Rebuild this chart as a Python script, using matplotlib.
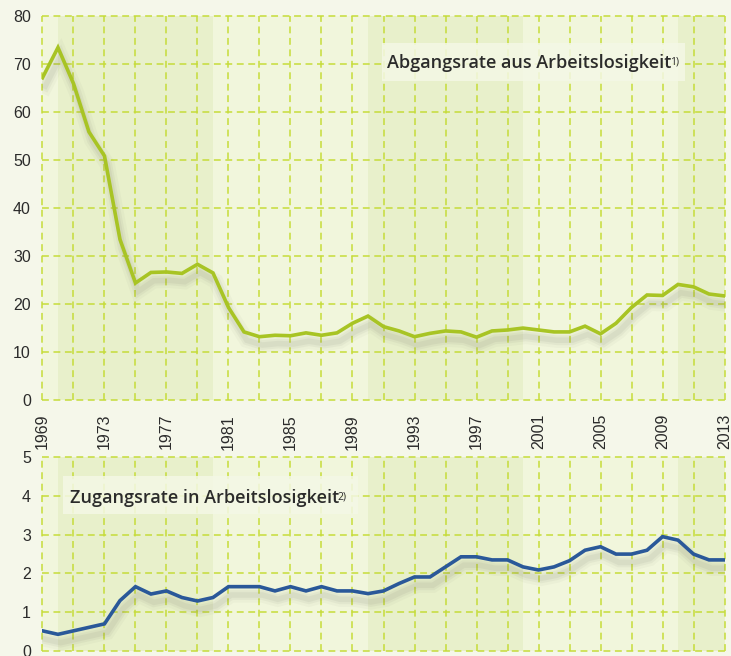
import matplotlib
matplotlib.use('Agg')
import matplotlib.pyplot as plt
import matplotlib.patheffects as pe
from matplotlib.patches import Rectangle

years = list(range(1969, 2014))

# Abgangsrate aus Arbeitslosigkeit (top panel)
abgang = [
	67.2, 73.5, 66.0, 55.9, 50.9, 33.5, 24.4, 26.6, 26.7, 26.4,
	28.3, 26.5, 19.3, 14.2, 13.2, 13.5, 13.4, 14.0, 13.5, 14.0,
	16.0, 17.5, 15.3, 14.4, 13.2, 13.9, 14.4, 14.2, 13.1, 14.4,
	14.6, 15.0, 14.6, 14.2, 14.2, 15.4, 13.8, 16.0, 19.3, 21.9,
	21.8, 24.1, 23.6, 22.1, 21.7,
]

# Zugangsrate in Arbeitslosigkeit (bottom panel)
zugang = [
	0.52, 0.43, 0.52, 0.61, 0.70, 1.30, 1.66, 1.47, 1.55, 1.38,
	1.29, 1.38, 1.66, 1.66, 1.66, 1.55, 1.66, 1.55, 1.66, 1.55,
	1.55, 1.48, 1.55, 1.74, 1.91, 1.91, 2.17, 2.43, 2.43, 2.35,
	2.35, 2.17, 2.09, 2.17, 2.33, 2.60, 2.69, 2.50, 2.50, 2.60,
	2.95, 2.86, 2.50, 2.35, 2.35,
]

# shaded decades
bands = [(1970, 1980), (1990, 2000), (2010, 2013)]

x_ticks = list(range(1969, 2014, 4))
x_grid = list(range(1969, 2014, 2))

fig_bg = '#f5f7ea'
ax_bg = '#f1f6dc'
band_bg = '#e8f0cb'
grid_col = '#c6dc3a'
text_col = '#2b2b2b'

plt.rcParams['font.family'] = ['Liberation Sans', 'DejaVu Sans']

fig = plt.figure(figsize=(7.31, 6.56), dpi=100, facecolor=fig_bg)
ax1 = fig.add_axes([42 / 731, 1 - 400 / 656, 683 / 731, 384 / 656])
ax2 = fig.add_axes([42 / 731, 1 - 651 / 656, 683 / 731, 194 / 656])


def shadow():
	return [
		pe.SimpleLineShadow(offset=(2, -6), shadow_color='#606050', alpha=0.04, linewidth=11),
		pe.SimpleLineShadow(offset=(2, -6), shadow_color='#606050', alpha=0.06, linewidth=7),
		pe.SimpleLineShadow(offset=(2, -6), shadow_color='#606050', alpha=0.07, linewidth=4),
		pe.Normal(),
	]


def style_axes(ax, ymax, ystep, show_x):
	ax.set_facecolor(ax_bg)
	for a, b in bands:
		ax.axvspan(a, b, color=band_bg, lw=0, zorder=0)
	ax.set_xlim(1968.97, 2013.03)
	ax.set_ylim(0, ymax * 1.001)
	ax.set_xticks(x_grid, minor=True)
	ax.set_xticks(x_ticks)
	if show_x:
		ax.set_xticklabels([str(y) for y in x_ticks], rotation=90)
	else:
		# labels of the lower panel fall below the picture's edge
		ax.set_xticklabels([])
	ax.set_yticks(range(0, ymax + 1, ystep))
	for sp in ax.spines.values():
		sp.set_visible(False)
	ax.tick_params(which='both', length=0, labelsize=11.5, colors=text_col)
	ax.tick_params(axis='y', pad=8)
	ax.tick_params(axis='x', pad=10)
	ax.grid(which='both', color=grid_col, linestyle=(0, (4.5, 3)), linewidth=1.1)
	ax.set_axisbelow(True)
	for gl in ax.get_xgridlines() + ax.get_ygridlines() + ax.xaxis.get_minorticklines():
		gl.set_clip_on(False)


style_axes(ax1, 80, 10, True)
style_axes(ax2, 5, 1, False)

ax1.plot(years, abgang, color='#a8c424', lw=2.6, solid_joinstyle='miter',
		path_effects=shadow(), zorder=3)
ax2.plot(years, zugang, color='#2a5899', lw=2.6, solid_joinstyle='miter',
		path_effects=shadow(), zorder=3)


def label_box(ax, bx, by, bw, bh, tx, ty, text, sup):
	ax.add_patch(Rectangle((bx, by), bw, bh, transform=ax.transAxes,
		facecolor='#f4f8e6', edgecolor='none', alpha=0.85, zorder=2))
	t = ax.text(tx, ty, text, transform=ax.transAxes, fontsize=13,
		family=['Open Sans', 'DejaVu Sans'], fontweight='semibold',
		color=text_col, va='center', ha='left', zorder=4)
	ax.annotate(sup, xy=(1, 1.0), xycoords=t, xytext=(-1, -2),
		textcoords='offset points', fontsize=7.5,
		family=['Open Sans', 'DejaVu Sans'], color=text_col,
		va='top', ha='left', zorder=4)


label_box(ax1, 0.498, 0.8307, 0.4436, 0.099, 0.505, 0.878,
	'Abgangsrate aus Arbeitslosigkeit', '1)')
label_box(ax2, 0.0307, 0.706, 0.432, 0.196, 0.041, 0.79,
	'Zugangsrate in Arbeitslosigkeit', '2)')

fig.savefig('out.png', dpi=100, facecolor=fig_bg)
